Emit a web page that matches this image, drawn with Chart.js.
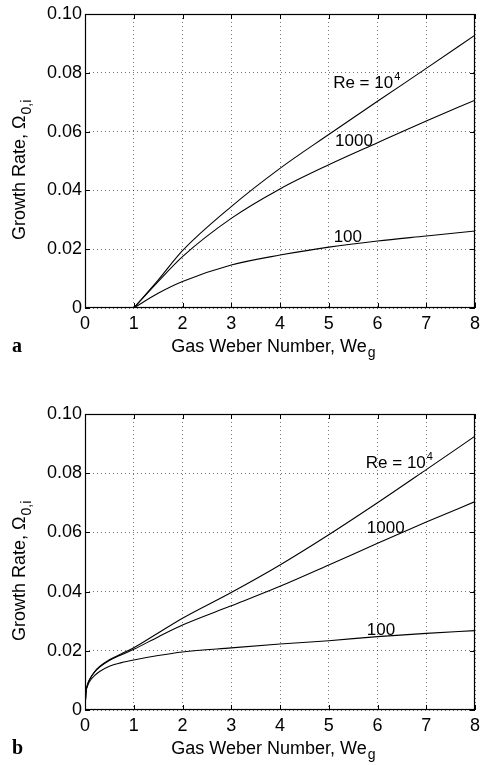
<!DOCTYPE html>
<html>
<head>
<meta charset="utf-8">
<script src="https://cdn.jsdelivr.net/npm/chart.js@4.4.1/dist/chart.umd.min.js"></script>
<style>
  html, body { margin: 0; padding: 0; background: #fff; }
  .panel { position: absolute; left: 0; width: 480px; }
</style>
</head>
<body>
<div class="panel" style="top:0;height:372px"><canvas id="chartA"></canvas></div>
<div class="panel" style="top:380px;height:385px"><canvas id="chartB"></canvas></div>
<script>
// panel a: growth rate vs gas Weber number, cut-off at We_g = 1
const weA      = [1, 1.5, 2, 3, 4, 5, 6, 7, 8];
const re10000A = [0, 0.0095, 0.0195, 0.0345, 0.0475, 0.059, 0.0703, 0.0815, 0.0928];
const re1000A  = [0, 0.009, 0.0175, 0.0305, 0.0405, 0.0487, 0.0562, 0.0636, 0.0707];
const re100A   = [0, 0.005, 0.009, 0.0146, 0.018, 0.0207, 0.0228, 0.0245, 0.0262];

// panel b: no cut-off, curves start at the origin
const weB      = [0, 0.02, 0.05, 0.1, 0.2, 0.3, 0.5, 0.75, 1, 1.5, 2, 3, 4, 5, 6, 7, 8];
const re10000B = [0, 0.006, 0.0085, 0.0105, 0.013, 0.0147, 0.017, 0.019, 0.021, 0.026, 0.031, 0.0397, 0.049, 0.0592, 0.07, 0.0812, 0.0925];
const re1000B  = [0, 0.006, 0.0085, 0.0105, 0.0129, 0.0145, 0.0167, 0.0187, 0.0205, 0.0247, 0.0287, 0.0352, 0.0418, 0.049, 0.0563, 0.0635, 0.0704];
const re100B   = [0, 0.006, 0.008, 0.0098, 0.0117, 0.013, 0.0148, 0.016, 0.0169, 0.0184, 0.0196, 0.021, 0.0223, 0.0234, 0.0248, 0.0259, 0.0268];

const xTicks = [0, 1, 2, 3, 4, 5, 6, 7, 8];
const yTicks = ['0', '0.02', '0.04', '0.06', '0.08', '0.10'];

const FONT = '"Liberation Sans", Arial, Helvetica, sans-serif';

function pts(xs, ys) {
  return xs.map((x, i) => ({ x: x, y: ys[i] }));
}

function textWithSub(ctx, main, sub, x, y, size, subSize, shift) {
  ctx.font = size + 'px ' + FONT;
  ctx.fillText(main, x, y);
  const w = ctx.measureText(main).width;
  ctx.font = subSize + 'px ' + FONT;
  ctx.fillText(sub, x + w + 1, y + shift);
  return w + 1 + ctx.measureText(sub).width;
}

// box, inward ticks, curve labels, axis titles and panel letter
const framePlugin = {
  id: 'frame',
  afterDraw(chart, args, opts) {
    const { ctx, chartArea: a, scales: { x, y } } = chart;
    ctx.save();
    ctx.strokeStyle = '#000';
    ctx.lineWidth = 1.2;
    ctx.setLineDash([]);
    ctx.strokeRect(a.left + 0.5, a.top + 0.5, a.width - 1, a.height - 1);

    ctx.lineWidth = 1;
    ctx.beginPath();
    x.ticks.forEach(t => {
      const px = Math.round(x.getPixelForValue(t.value)) + 0.5;
      ctx.moveTo(px, a.bottom); ctx.lineTo(px, a.bottom - 5);
      ctx.moveTo(px, a.top); ctx.lineTo(px, a.top + 5);
    });
    y.ticks.forEach(t => {
      const py = Math.round(y.getPixelForValue(t.value)) + 0.5;
      ctx.moveTo(a.left, py); ctx.lineTo(a.left + 5, py);
      ctx.moveTo(a.right, py); ctx.lineTo(a.right - 5, py);
    });
    ctx.stroke();

    ctx.fillStyle = '#000';
    ctx.textBaseline = 'alphabetic';
    ctx.textAlign = 'left';

    opts.notes.forEach(n => {
      const px = x.getPixelForValue(n.x);
      const py = y.getPixelForValue(n.y);
      ctx.font = '17px ' + FONT;
      ctx.fillText(n.text, px, py);
      if (n.sup) {
        const w = ctx.measureText(n.text).width;
        ctx.font = '11px ' + FONT;
        ctx.fillText(n.sup, px + w + 1, py - 8);
      }
    });

    // x title: Gas Weber Number, We_g
    ctx.font = '18px ' + FONT;
    const mainW = ctx.measureText('Gas Weber Number, We').width;
    const cx = (a.left + a.right) / 2 - 11;
    textWithSub(ctx, 'Gas Weber Number, We', 'g', cx - mainW / 2, opts.titleY, 18, 14, 5);

    // y title: Growth Rate, Omega_0,i
    ctx.save();
    ctx.translate(25, (a.top + a.bottom) / 2 + 79);
    ctx.rotate(-Math.PI / 2);
    textWithSub(ctx, 'Growth Rate, \u03A9', '0,i', 0, 0, 18, 14, 6);
    ctx.restore();

    ctx.font = 'bold 20px "Liberation Serif", "Times New Roman", serif';
    ctx.fillText(opts.letter, 12, opts.titleY);
    ctx.restore();
  }
};

function makeChart(id, xs, s1, s2, s3, padTop, xAxisH, titleY, letter, notes) {
  const line = { borderColor: '#000', borderWidth: 1.1, pointRadius: 0, fill: false, cubicInterpolationMode: 'monotone' };
  const gridOpts = { color: 'rgba(0,0,0,0.55)', lineWidth: 1, drawTicks: false, borderDash: [1, 3] };
  const borderOpts = { display: false, dash: [1, 3] };
  return new Chart(document.getElementById(id), {
    type: 'line',
    data: {
      datasets: [
        Object.assign({ label: 'Re = 10^4', data: pts(xs, s1) }, line),
        Object.assign({ label: 'Re = 1000', data: pts(xs, s2) }, line),
        Object.assign({ label: 'Re = 100', data: pts(xs, s3) }, line)
      ]
    },
    options: {
      responsive: true,
      maintainAspectRatio: false,
      animation: false,
      layout: { padding: { top: padTop, right: 5, left: 0, bottom: 0 } },
      plugins: {
        legend: { display: false },
        tooltip: { enabled: false },
        frame: { titleY: titleY, letter: letter, notes: notes }
      },
      scales: {
        x: {
          type: 'linear', min: xTicks[0], max: xTicks[xTicks.length - 1],
          afterFit: s => { s.height = xAxisH; s.paddingLeft = 0; s.paddingRight = 0; },
          afterBuildTicks: s => { s.ticks = xTicks.map(v => ({ value: v })); },
          ticks: { color: '#000', font: { family: FONT, size: 18 }, padding: 5, maxRotation: 0, autoSkip: false,
                   callback: v => String(v) },
          grid: gridOpts,
          border: borderOpts
        },
        y: {
          min: 0, max: 0.1,
          afterFit: s => { s.width = 85; s.paddingTop = 0; s.paddingBottom = 0; },
          afterBuildTicks: s => { s.ticks = yTicks.map(v => ({ value: parseFloat(v) })); },
          ticks: { color: '#000', font: { family: FONT, size: 18 }, padding: 3, autoSkip: false,
                   callback: (v, i) => yTicks[i] },
          grid: gridOpts,
          border: borderOpts
        }
      }
    },
    plugins: [framePlugin]
  });
}

makeChart('chartA', weA, re10000A, re1000A, re100A, 14, 64, 352, 'a', [
  { text: 'Re = 10', sup: '4', x: 5.09, y: 0.0748 },
  { text: '1000', x: 5.13, y: 0.0551 },
  { text: '100', x: 5.1, y: 0.0226 }
]);

makeChart('chartB', weB, re10000B, re1000B, re100B, 34, 55, 374, 'b', [
  { text: 'Re = 10', sup: '4', x: 5.76, y: 0.0818 },
  { text: '1000', x: 5.78, y: 0.0599 },
  { text: '100', x: 5.78, y: 0.0253 }
]);
</script>
</body>
</html>
